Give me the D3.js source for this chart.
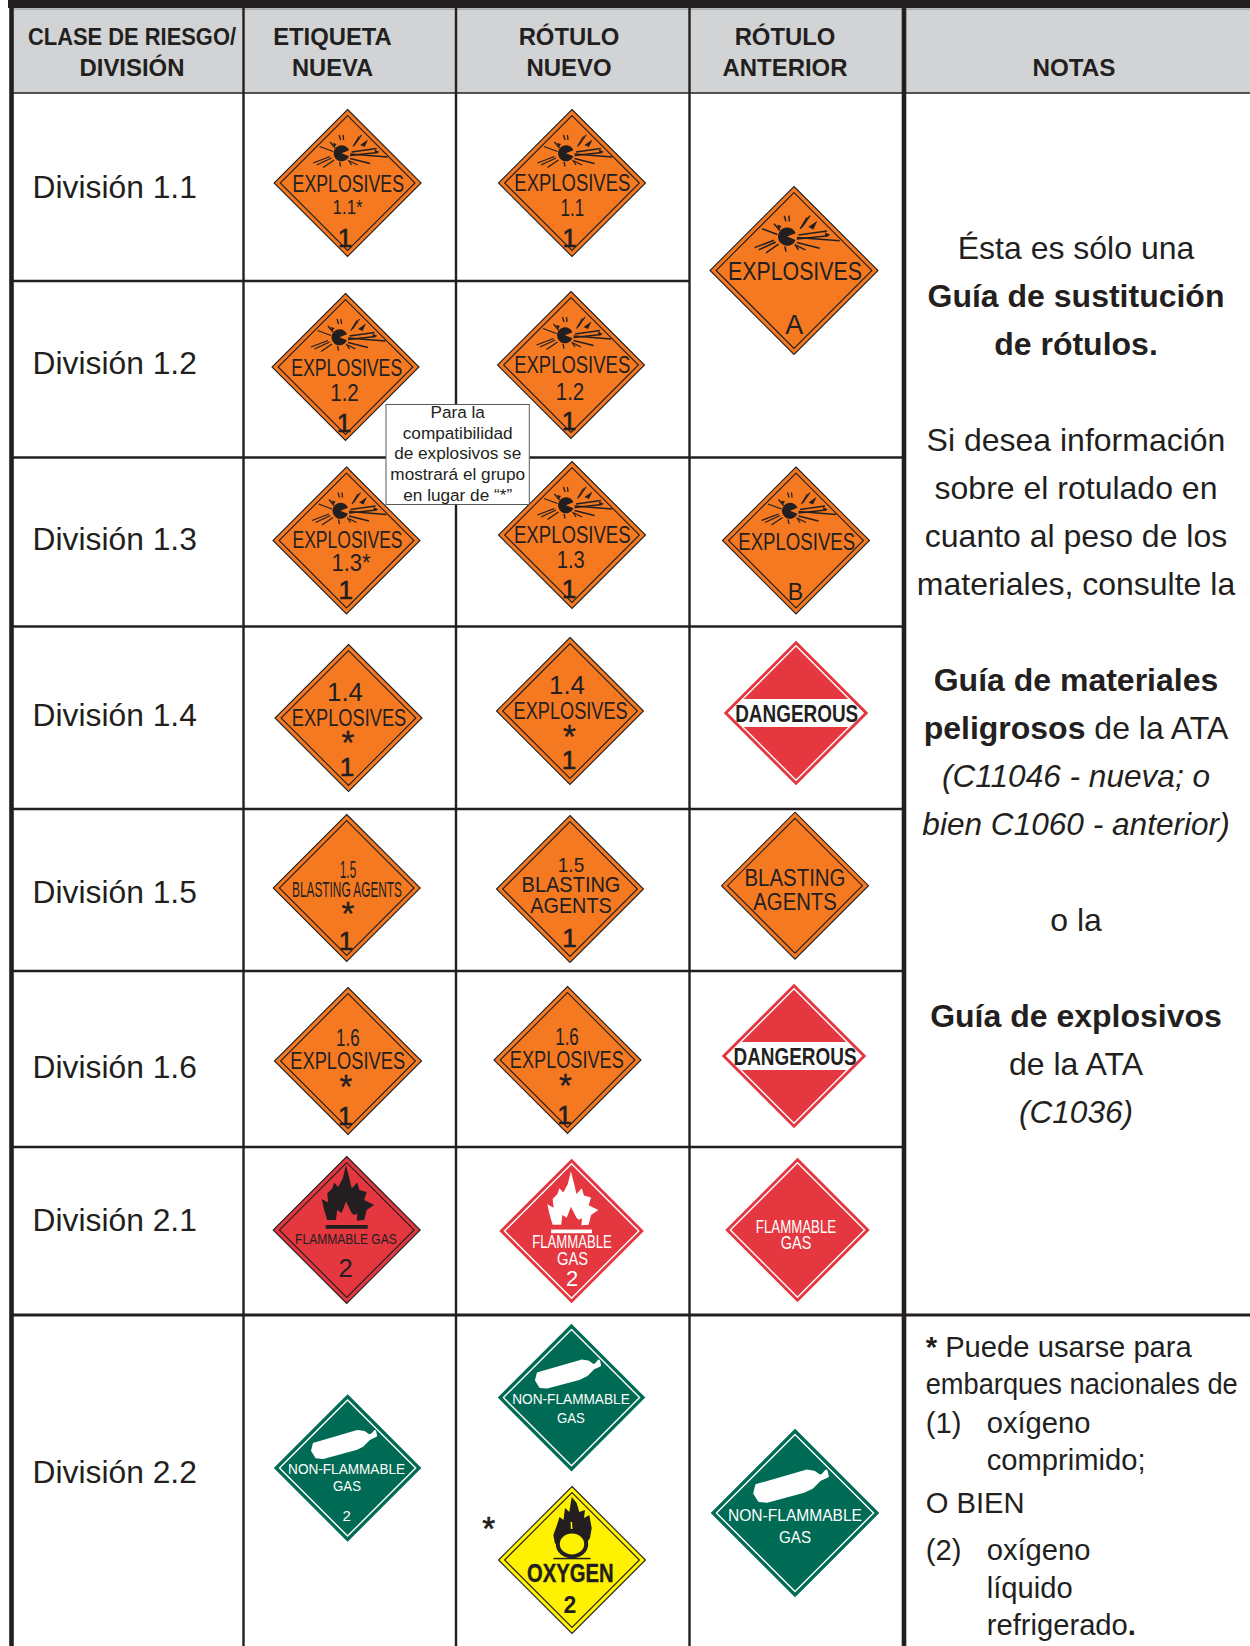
<!DOCTYPE html>
<html lang="es">
<head>
<meta charset="utf-8">
<script src="https://cdn.jsdelivr.net/npm/d3@7/dist/d3.min.js"></script>
<style>
html,body{margin:0;padding:0;background:#fff}
svg{display:block}
text{font-family:"Liberation Sans",Arial,Helvetica,sans-serif;fill:#231f20}
</style>
</head>
<body>
<svg id="chart" width="1250" height="1646"></svg>
<script>
// ---------- content ----------
const divisions = ["División 1.1","División 1.2","División 1.3","División 1.4","División 1.5","División 1.6","División 2.1","División 2.2"];
const columnIds = ["clase","etiqueta","nuevo","anterior","notas"];
const headerLines = [
  ["CLASE DE RIESGO/","DIVISIÓN"],
  ["ETIQUETA","NUEVA"],
  ["RÓTULO","NUEVO"],
  ["RÓTULO","ANTERIOR"],
  ["","NOTAS"]
];
const guideNotes = [
  "Ésta es sólo una","<b>Guía de sustitución</b>","<b>de rótulos.</b>","",
  "Si desea información","sobre el rotulado en","cuanto al peso de los","materiales, consulte la","",
  "<b>Guía de materiales</b>","<b>peligrosos</b> de la ATA","<i>(C11046 - nueva; o</i>","<i>bien C1060 - anterior)</i>","",
  "o la","","<b>Guía de explosivos</b>","de la ATA","<i>(C1036)</i>"
];
const oxygenNotes = ["<b>*</b> Puede usarse para","embarques nacionales de","(1)","oxígeno","comprimido;","O BIEN","(2)","oxígeno","líquido","refrigerado<b>.</b>"];
const calloutLines = ["Para la","compatibilidad","de explosivos se","mostrará el grupo","en lugar de “*”"];

// placard wording, one entry per placard
const placardWords = {
  et11:["EXPLOSIVES","1.1*","1"], ro11:["EXPLOSIVES","1.1","1"],
  et12:["EXPLOSIVES","1.2","1"], ro12:["EXPLOSIVES","1.2","1"],
  et13:["EXPLOSIVES","1.3*","1"], ro13:["EXPLOSIVES","1.3","1"],
  oldA:["EXPLOSIVES","A"], oldB:["EXPLOSIVES","B"],
  et14:["1.4","EXPLOSIVES","*","1"], ro14:["1.4","EXPLOSIVES","*","1"], dan1:["DANGEROUS"],
  et15:["1.5","BLASTING AGENTS","*","1"], ro15:["1.5","BLASTING","AGENTS","1"], bla:["BLASTING","AGENTS"],
  et16:["1.6","EXPLOSIVES","*","1"], ro16:["1.6","EXPLOSIVES","*","1"], dan2:["DANGEROUS"],
  et21:["FLAMMABLE GAS","2"], ro21:["FLAMMABLE","GAS","2"], old21:["FLAMMABLE","GAS"],
  et22:["NON-FLAMMABLE","GAS","2"], ro22:["NON-FLAMMABLE","GAS"], oxy:["OXYGEN","2"], old22:["NON-FLAMMABLE","GAS"]
};

// ---------- layout ----------
const rowEdges = [93,281,457.5,626.5,809,971,1147,1315,1646];
const colEdges = [11.5,243.5,456,689.5,904,1250];
const colLeft = d3.scaleOrdinal().domain(columnIds).range(colEdges.slice(0,5));
const colRight = d3.scaleOrdinal().domain(columnIds).range(colEdges.slice(1));

const rowBaselines = [198,374,550,726,902.5,1078,1231,1483];
const headerCenters = [132,332.5,569,785,1074];
const headerFits = [[208,105],[118.6,81],[100.7,85],[100.7,125],[0,83]];
const guideBaselines = [259,306.5,355,0,451,499,547,595,0,691,739,787,835,0,931,0,1027,1075,1123];
const oxygenPlacement = [[925.7,1357],[925.7,1394],[925.7,1432.7],[986.7,1432.7],[986.7,1470],[925.7,1513],[925.7,1559.5],[986.7,1559.5],[986.7,1597.5],[986.7,1635]];
const calloutBaselines = [417.5,438.5,459,480,501];

// id, center x, center y, half-diagonal, scheme, symbol
const placardPlaces = [
  ["et11",347.6,183,74,"orange","bomb"],["ro11",572,183,74,"orange","bomb"],
  ["et12",345.5,367,74,"orange","bomb"],["ro12",571,365,74,"orange","bomb"],
  ["et13",346.5,540.5,74,"orange","bomb"],["ro13",572,535,74,"orange","bomb"],
  ["oldA",794,270.5,84.5,"orange","bomb"],["oldB",796,540.5,74,"orange","bomb"],
  ["et14",348.5,718,74,"orange",""],["ro14",570,711,74,"orange",""],["dan1",796,713,72,"redWhite","band"],
  ["et15",346.7,888,74,"orange",""],["ro15",570,889,74,"orange",""],["bla",795,885.7,74,"orange",""],
  ["et16",348,1061,74,"orange",""],["ro16",567.5,1060,74,"orange",""],["dan2",794,1056,72,"redWhite","band"],
  ["et21",346.7,1230,74,"redDark","flameDark"],["ro21",571.6,1231,72,"redWhite","flameWhite"],["old21",797.5,1230,72,"redWhite",""],
  ["et22",347.6,1468,73.5,"green","tank"],["ro22",571.5,1397.6,73.5,"green","tank"],
  ["oxy",572,1560,74,"yellow","oxidizer"],["old22",795,1513,84,"green","tank"]
];
// per word: dx, baseline dy, font size, fitted width (0 = natural), extra stroke, bold flag
const E=(dx,dy,w,s)=>[dx,dy,s||23,w,0,0];
const N=(dx,dy,w,s)=>[dx,dy,s||24,w,0,0];
const ONE=(dx,dy)=>[dx,dy,26,0,0.6,0];
const STAR=(dx,dy)=>[dx,dy+17.3,33,0,0.35,0];
const wordPlaces = {
  et11:[E(.7,8.7,111.5),N(0,31.3,30,20),ONE(-2.6,64)],
  ro11:[E(.3,7.7,116,24),N(.4,33,23.6),ONE(-2.5,63.7)],
  et12:[E(1.2,8.7,111),N(-1,33.7,28.6),ONE(-1.5,64.7)],
  ro12:[E(1.2,8.3,116,24),N(-1,35,28.5),ONE(-2,65)],
  et13:[E(1,7.2,110),N(4.5,30.5,39),ONE(-.8,58)],
  ro13:[E(.3,8.3,116.7,24),N(-1.2,33,28),ONE(-3,63)],
  oldA:[E(1,9.5,133.8,26),[.2,63,27,0,0,0]],
  oldB:[E(.7,9.5,117,23),[-.7,59.5,23,0,0,0]],
  et14:[N(-3.5,-17.3,36,25),E(.5,7.7,114.5),STAR(-.7,18.7),ONE(-1.5,57.7)],
  ro14:[N(-3,-16.7,36,25),E(.6,8,114),STAR(-.6,19.7),ONE(-1,58)],
  dan1:[[.7,8.7,24.5,123,0,1]],
  et15:[N(1.3,-9.7,16.3,23),[.3,8.7,22.5,110,0,0],STAR(1.1,19.7),ONE(-.7,62)],
  ro15:[N(1,-17.3,26.5,21),[1,3.3,21.5,98.8,0,0],[1,24.3,21.5,81.6,0,0],ONE(-.6,58.3)],
  bla:[[0,.3,23,101,0,0],[0,24.6,23,83.3,0,0]],
  et16:[N(-.2,-15.3,23.7,23),E(-.3,8,115),STAR(-2,19.7),ONE(-2.7,64)],
  ro16:[N(-.5,-15,23.7,23),E(-.7,8.3,114),STAR(-2.2,20),ONE(-3,64)],
  dan2:[[1,9,24.5,123,0,1]],
  et21:[[-.8,14.3,15.5,101.6,0,0],[-1,46.7,25.5,0,0,0]],
  ro21:[[.4,17.3,17.5,79.6,0,0],[1,34,17.5,31,0,0],[.4,54.7,22,0,0,0]],
  old21:[[-1.5,3.3,17.5,80.4,0,0],[-1.5,19.3,17.5,30.6,0,0]],
  et22:[[-1,6.3,15,117,0,0],[-.6,23,15,28,0,0],[-1,53,15,0,0,0]],
  ro22:[[-.5,6.4,15,117.5,0,0],[-.5,25.7,15,27.8,0,0]],
  oxy:[[-1.7,21.7,26.5,86.5,.4,1],[-2.2,53.3,23,0,0,1]],
  old22:[[0,7.7,17,134,0,0],[0,29.7,17,32,0,0]]
};
const schemes = {
  orange:{fill:"#f47920",edge:"#231f20",inner:"#231f20",ink:"#231f20",inset:5.5},
  redDark:{fill:"#e43740",edge:"#231f20",inner:"#231f20",ink:"#231f20",inset:5.5},
  redWhite:{fill:"#e43740",edge:"#e43740",inner:"#ffffff",ink:"#ffffff",inset:4},
  green:{fill:"#006b54",edge:"#006b54",inner:"#ffffff",ink:"#ffffff",inset:4.5},
  yellow:{fill:"#fff200",edge:"#231f20",inner:"#231f20",ink:"#231f20",inset:5.5}
};

// ---------- symbol outlines (drawn for a half-diagonal of 74) ----------
const bombRays = [[2.5,-29,40,-26],[2.5,-27.5,30,-30.5],[4,-31,29,-34.5],[2.5,-24.5,22.5,-19.5],[2,-22,10,-18],
  [-28,-36.5,-14.5,-31.5],[-34.5,-20,-17.5,-26.5],[-31,-18,-16,-25],[-24.5,-15.5,-13.5,-23],
  [-8.5,-48,-7,-43],[-4.5,-48,-4,-43],[-17.5,-41,-12.5,-35],[5.5,-36.5,11.5,-46.5],[7,-38,14,-48],
  [.7,-23,4,-18],[-8,-21,-7,-16.5]];
const bombBits = [[12.5,-38,20.5,-43.5,17,-36],[27,-33.5,32,-31,27.5,-29.5],[-15,-40,-11,-39,-13,-36]];
const flameOutline = [-19.5,-10,-22.5,-20,-25,-31,-18.5,-27.5,-19.5,-36.5,-14.5,-41.5,-12.5,-47.5,-8.5,-43,-4,-51.5,-.7,-65,2.7,-51.5,5,-41.5,10.5,-47.5,12.7,-40,20,-38,17.5,-30,27.5,-25,20,-20,17.5,-10,10,-9.5,10.7,-16.5,7.5,-15,5,-17,-.7,-28.5,-5,-17,-9.5,-20,-10.7,-10];
const oxidizerFlame = [-17,-16,-18.7,-25,-15,-35,-12.5,-43,-8.5,-40,-7,-52,-2.7,-48,-.3,-63,4.7,-57,7.3,-48,13,-50,12,-42,17.3,-45,19.7,-32,18,-22,14.7,-17,8,-24,0,-26,-8,-24];
const tankOutline = [-33.8,-24.3,10,-37,16.8,-36,21.8,-32.5,24.5,-33.5,27.5,-37,28.5,-32.5,21.8,-29.3,15,-22.5,8.5,-19.3,-24.8,-10.3,-31.5,-11,-35.5,-17.5];
const pairs = flat => d3.range(0,flat.length,2).map(i=>[flat[i],flat[i+1]]);

// ---------- draw ----------
const svg = d3.select("#chart");
const gridColor = "#231f20";

// header band and cells
svg.append("rect").attr("x",8).attr("y",0).attr("width",1242).attr("height",8).attr("fill","#231f20");
svg.selectAll("rect.head").data(columnIds).join("rect").attr("class","head")
  .attr("x",d=>colLeft(d)).attr("y",9.5).attr("width",d=>colRight(d)-colLeft(d)).attr("height",83.5).attr("fill","#d1d3d4");
svg.append("line").attr("x1",11).attr("x2",1250).attr("y1",9).attr("y2",9).attr("stroke","#6d6e71").attr("stroke-width",1);

// horizontal rules: [row index, x start, x end, weight]
const hRules = [[0,11.5,1250,1.6],[1,11.5,689.5,2.6],[2,11.5,904,2.6],[3,11.5,904,2.6],[4,11.5,904,2.6],[5,11.5,904,2.6],[6,11.5,904,2.6],[7,11.5,1250,2.8]];
svg.selectAll("line.h").data(hRules).join("line").attr("class","h")
  .attr("x1",d=>d[1]).attr("x2",d=>d[2]).attr("y1",d=>rowEdges[d[0]]).attr("y2",d=>rowEdges[d[0]])
  .attr("stroke",gridColor).attr("stroke-width",d=>d[3]);
// vertical rules
const vRules = [[colEdges[0],4.6],[colEdges[1],2.4],[colEdges[2],2.4],[colEdges[3],2.4],[colEdges[4],4.6]];
svg.selectAll("line.v").data(vRules).join("line").attr("class","v")
  .attr("x1",d=>d[0]).attr("x2",d=>d[0]).attr("y1",8).attr("y2",1646)
  .attr("stroke",gridColor).attr("stroke-width",d=>d[1]);

// header text
headerLines.forEach((ls,c)=>{
  svg.append("g").selectAll("text").data(ls).join("text")
    .attr("x",headerCenters[c]).attr("y",(d,i)=>i?76:45)
    .attr("text-anchor","middle").attr("font-weight","bold").attr("font-size",24)
    .attr("textLength",(d,i)=>headerFits[c][i]||null).attr("lengthAdjust","spacingAndGlyphs")
    .text(d=>d);
});

// division labels
svg.append("g").selectAll("text").data(divisions).join("text")
  .attr("x",32.5).attr("y",(d,i)=>rowBaselines[i]).attr("font-size",31.8).text(d=>d);

// rich text helper
function rich(sel){
  sel.each(function(d){
    const node=d3.select(this);
    const parts=d.split(/(<b>.*?<\/b>|<i>.*?<\/i>)/).filter(s=>s);
    node.selectAll("tspan").data(parts).join("tspan")
      .attr("font-weight",p=>p.startsWith("<b>")?"bold":null)
      .attr("font-style",p=>p.startsWith("<i>")?"italic":null)
      .text(p=>p.replace(/<\/?[bi]>/g,""));
  });
}
svg.append("g").selectAll("text").data(guideNotes).join("text")
  .attr("x",1076).attr("y",(d,i)=>guideBaselines[i]).attr("text-anchor","middle")
  .attr("font-size",d=>d.startsWith("<i>")?31.6:32).call(rich);
svg.append("g").selectAll("text").data(oxygenNotes).join("text")
  .attr("x",(d,i)=>oxygenPlacement[i][0]).attr("y",(d,i)=>oxygenPlacement[i][1]).attr("font-size",29.2)
  .attr("textLength",(d,i)=>i===1?312:null).attr("lengthAdjust","spacingAndGlyphs").call(rich);

// placards
const line = d3.line();
const closed = d3.line().curve(d3.curveLinearClosed);
const diamond = h => closed([[0,-h],[h,0],[0,h],[-h,0]]);
const plate = svg.append("g").selectAll("g").data(placardPlaces).join("g")
  .attr("transform",d=>`translate(${d[1]},${d[2]})`);
plate.each(function(d){
  const g=d3.select(this), h=d[3], sc=schemes[d[4]], k=h/74;
  g.append("path").attr("d",diamond(h-.5)).attr("fill",sc.fill).attr("stroke",sc.edge).attr("stroke-width",1.1);
  g.append("path").attr("d",diamond(h-sc.inset*1.2)).attr("fill","none").attr("stroke",sc.inner).attr("stroke-width",d[4]==="redWhite"||d[4]==="green"?1.4:1.1);
  const sym=g.append("g").attr("transform",`scale(${k})`);
  if(d[5]==="bomb"){
    const a=d3.arc().innerRadius(0).outerRadius(8).startAngle(Math.PI/2+.38).endAngle(Math.PI*2.5-.38);
    sym.append("path").attr("transform","translate(-6,-29.7)").attr("d",a()).attr("fill","#231f20");
    sym.selectAll("line.ray").data(bombRays).join("line").attr("class","ray")
      .attr("x1",r=>r[0]).attr("y1",r=>r[1]).attr("x2",r=>r[2]).attr("y2",r=>r[3])
      .attr("stroke","#231f20").attr("stroke-width",1.3);
    sym.selectAll("path.bit").data(bombBits).join("path").attr("class","bit")
      .attr("d",b=>closed(pairs(b))).attr("fill","#231f20");
  }
  if(d[5]==="band"){
    const w=h-sc.inset*1.2;
    g.append("path").attr("d",closed([[-w,0],[-(w-14),-14],[w-14,-14],[w,0],[w-14,14],[-(w-14),14]])).attr("fill","#fff");
  }
  if(d[5]==="flameDark"||d[5]==="flameWhite"){
    const col=d[5]==="flameDark"?"#231f20":"#fff", off=d[5]==="flameDark"?0:3.5;
    const f=sym.append("g").attr("transform",`translate(0,${off})`);
    f.append("path").attr("d",closed(pairs(flameOutline))).attr("fill",col);
    f.append("rect").attr("x",-21).attr("y",-5).attr("width",42).attr("height",3.8).attr("fill",col);
  }
  if(d[5]==="tank"){
    sym.append("path").attr("d",closed(pairs(tankOutline))).attr("fill","#fff").attr("stroke","#fff").attr("stroke-width",2.5).attr("stroke-linejoin","round");
  }
  if(d[5]==="oxidizer"){
    sym.append("path").attr("d",closed(pairs(oxidizerFlame))).attr("fill","#231f20");
    sym.append("ellipse").attr("cx",0).attr("cy",-16).attr("rx",14.2).attr("ry",12.4).attr("fill","#fff200").attr("stroke","#231f20").attr("stroke-width",4);
    sym.append("path").attr("d",line([[-.7,-38],[-.3,-31]])).attr("stroke","#fff200").attr("stroke-width",1.6);
    sym.append("rect").attr("x",-18.5).attr("y",-2.2).attr("width",37).attr("height",1.5).attr("fill","#231f20");
  }
  const words=placardWords[d[0]], places=wordPlaces[d[0]];
  const ink=d[5]==="band"?"#231f20":sc.ink;
  g.selectAll("text").data(words).join("text")
    .attr("x",(w,i)=>places[i][0]).attr("y",(w,i)=>places[i][1])
    .attr("font-size",(w,i)=>places[i][2]).attr("text-anchor","middle")
    .attr("font-weight",(w,i)=>places[i][5]?"bold":null)
    .attr("textLength",(w,i)=>places[i][3]||null).attr("lengthAdjust","spacingAndGlyphs")
    .attr("stroke",(w,i)=>places[i][4]?ink:null).attr("stroke-width",(w,i)=>places[i][4]||null)
    .style("fill",ink).text(w=>w);
});

// lone asterisk beside the oxygen placard
svg.append("text").attr("x",488.6).attr("y",1539.5).attr("text-anchor","middle").attr("font-size",33).attr("stroke","#231f20").attr("stroke-width",.6).text("*");

// callout
svg.append("rect").attr("x",386).attr("y",404.5).attr("width",143.3).attr("height",100).attr("fill","#fff").attr("stroke","#58595b").attr("stroke-width",1);
svg.append("g").selectAll("text").data(calloutLines).join("text")
  .attr("x",457.7).attr("y",(d,i)=>calloutBaselines[i]).attr("text-anchor","middle").attr("font-size",17.2).text(d=>d);
</script>
</body>
</html>
